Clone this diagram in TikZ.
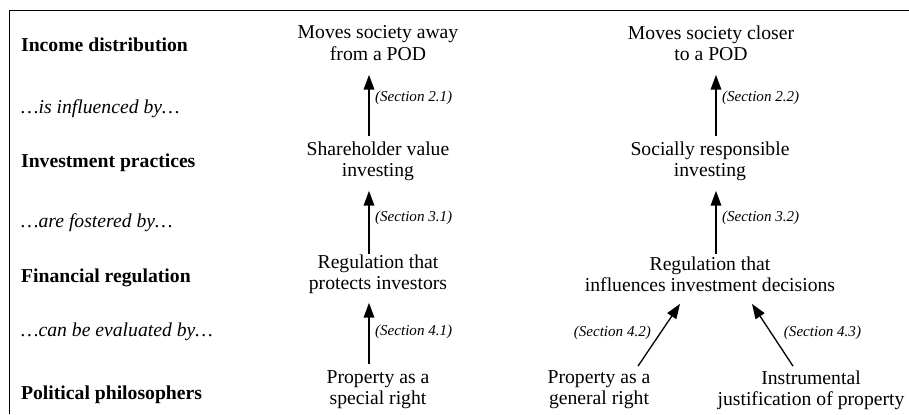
\documentclass[tikz,border=0pt]{standalone}
\usepackage{fontspec}
\setmainfont{Liberation Serif}
\usepackage{tikz}
\usetikzlibrary{arrows.meta}

\begin{document}
\begin{tikzpicture}
	[x=0.61pt, y=-0.61pt, thick,
	main/.style = {align=center, inner sep=0pt, minimum height=32pt, font=\fontsize{12}{13}\selectfont},
	row/.style = {anchor=west, font=\fontsize{12}{13}\selectfont\bfseries},
	link/.style = {anchor=west, font=\fontsize{12}{13}\selectfont\itshape},
	sec/.style = {font=\fontsize{9.2}{11}\selectfont\itshape},
	arr/.style = {-{Triangle[length=9pt, width=6.5pt]}}]
	\useasboundingbox (0,0) rectangle (909,414);
	\draw[line width=0.6pt] (9,414) -- (9,10.7) -- (909,10.7);
	\node[row] (income) at (15,45) {Income distribution};
	\node[link] (influenced) at (15,109) {…is influenced by…};
	\node[row] (practices) at (15,163) {Investment practices};
	\node[link] (fostered) at (15,223) {…are fostered by…};
	\node[row] (regulation) at (15,278) {Financial regulation};
	\node[link] (evaluated) at (15,332) {…can be evaluated by…};
	\node[row] (philosophers) at (15,395) {Political philosophers};
	\node[main] (pod1) at (378,43) {Moves society away\\from a POD};
	\node[main] (pod2) at (711,43) {Moves society closer\\to a POD};
	\node[main] (sv) at (378,161) {Shareholder value\\investing};
	\node[main] (sri) at (710,161) {Socially responsible\\investing};
	\node[main] (reg1) at (378,274) {Regulation that\\protects investors};
	\node[main] (reg2) at (710,274) {Regulation that\\influences investment decisions};
	\node[main] (spec) at (378,390) {Property as a\\special right};
	\node[main] (gen) at (599,390) {Property as a\\general right};
	\node[main] (instr) at (811,390) {Instrumental\\justification of property};
	\draw[arr] ([shift={(-9,2)}]sv.north) -- node[sec, pos=0.63, right] {(Section 2.1)} ([shift={(-9,5)}]pod1.south);
	\draw[arr] ([shift={(-9,7)}]reg1.north) -- node[sec, pos=0.58, right] {(Section 3.1)} ([shift={(-9,3)}]sv.south);
	\draw[arr] ([shift={(-9,1)}]spec.north) -- node[sec, pos=0.52, right] {(Section 4.1)} ([shift={(-9,2)}]reg1.south);
	\draw[arr] ([shift={(6,2)}]sri.north) -- node[sec, pos=0.63, right] {(Section 2.2)} ([shift={(5,5)}]pod2.south);
	\draw[arr] ([shift={(6,7)}]reg2.north) -- node[sec, pos=0.58, right] {(Section 3.2)} ([shift={(6,3)}]sri.south);
	\draw[arr] ([shift={(39,3)}]gen.north) -- node[sec, pos=0.53, left=2pt] {(Section 4.2)} ([shift={(-30,3)}]reg2.south);
	\draw[arr] ([shift={(-18,3)}]instr.north) -- node[sec, pos=0.53, right=4pt] {(Section 4.3)} ([shift={(42,3)}]reg2.south);
\end{tikzpicture}
\end{document}
